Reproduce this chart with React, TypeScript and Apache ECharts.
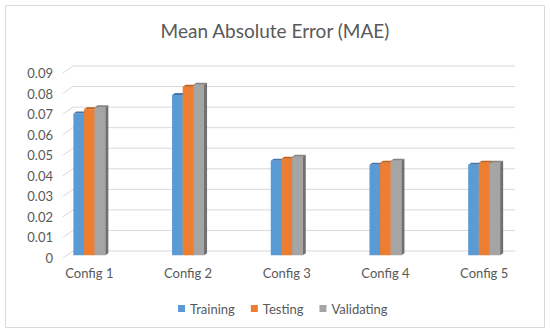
import React, { useEffect, useRef } from "react";
import * as echarts from "echarts";

const categories = ["Config 1", "Config 2", "Config 3", "Config 4", "Config 5"];
const seriesNames = ["Training", "Testing", "Validating"];
const training = [0.069, 0.078, 0.046, 0.044, 0.044];
const testing = [0.071, 0.082, 0.047, 0.045, 0.045];
const validating = [0.072, 0.083, 0.048, 0.046, 0.045];
const yTicks = [0, 0.01, 0.02, 0.03, 0.04, 0.05, 0.06, 0.07, 0.08, 0.09];

const frontColors = ["#5b9bd5", "#ed7d31", "#a5a5a5"];
const topColors = ["#4677aa", "#c4601f", "#858585"];
const sideColors = ["#3f6d99", "#a9521b", "#6f6f6f"];

const TEXT = "#595959";
const FONT = "Lato";
const DX = 3;
const DY = 2;
const BAR_RATIO = 0.108;

export default function App() {
  const ref = useRef<HTMLDivElement>(null);
  useEffect(() => {
    if (!ref.current) return;
    const chart = echarts.init(ref.current, undefined, { renderer: "svg" });
    const allValues = [training, testing, validating];

    const barSeries = allValues.map((vals, si) => ({
      type: "custom",
      name: seriesNames[si],
      xAxisIndex: 1,
      yAxisIndex: 1,
      itemStyle: { color: frontColors[si] },
      data: vals.map((v, i) => [i, v]),
      renderItem: (params: any, api: any) => {
        const idx = api.value(0);
        const val = api.value(1);
        const top = api.coord([idx, val]);
        const base = api.coord([idx, 0]);
        const band = api.size([1, 0])[0];
        const w = band * BAR_RATIO;
        const x = top[0] + (si - 1.5) * w;
        const yt = top[1];
        const yb = base[1];
        return {
          type: "group",
          children: [
            {
              type: "rect",
              shape: { x, y: yt, width: w, height: yb - yt },
              style: { fill: frontColors[si] },
            },
            {
              type: "polygon",
              shape: {
                points: [
                  [x, yt],
                  [x + DX, yt - DY],
                  [x + w + DX, yt - DY],
                  [x + w, yt],
                ],
              },
              style: { fill: topColors[si] },
            },
            {
              type: "polygon",
              shape: {
                points: [
                  [x + w, yt],
                  [x + w + DX, yt - DY],
                  [x + w + DX, yb - DY],
                  [x + w, yb],
                ],
              },
              style: { fill: sideColors[si] },
            },
          ],
        };
      },
    }));

    const option: any = {
      animation: false,
      title: {
        text: "Mean Absolute Error (MAE)",
        left: "center",
        top: 16,
        textStyle: { fontFamily: FONT, fontSize: 19, fontWeight: "normal", color: TEXT },
      },
      legend: {
        data: seriesNames,
        left: 173,
        top: 297,
        icon: "rect",
        itemWidth: 7,
        itemHeight: 7,
        itemGap: 16,
        textStyle: { fontFamily: FONT, fontSize: 13, color: TEXT },
      },
      graphic: [
        {
          type: "rect",
          shape: { x: 5.5, y: 5.5, width: 539, height: 322 },
          style: { fill: "none", stroke: "#d9d9d9", lineWidth: 1 },
          silent: true,
        },
      ],
      grid: [
        { left: 63, right: 45, top: 73, bottom: 78 },
        { left: 40, right: 16.5, top: 70.3, bottom: 80.7 },
      ],
      xAxis: [
        { type: "value", gridIndex: 0, min: 0, max: 1, show: false },
        {
          type: "category",
          gridIndex: 1,
          data: categories,
          axisLine: { show: false },
          axisTick: { show: false },
          axisLabel: { margin: 11, fontFamily: FONT, fontSize: 13, color: TEXT },
        },
      ],
      yAxis: [
        {
          type: "value",
          gridIndex: 0,
          min: 0,
          max: 0.09,
          interval: 0.01,
          splitLine: { show: false },
          axisLine: { show: false },
          axisTick: { show: false },
          axisLabel: {
            margin: 10,
            fontFamily: FONT,
            fontSize: 13,
            color: TEXT,
            formatter: (v: number) => String(parseFloat(v.toFixed(2))),
          },
        },
        {
          type: "value",
          gridIndex: 1,
          min: 0,
          max: 0.09,
          interval: 0.01,
          show: false,
          splitLine: { show: false },
        },
      ],
      series: [
        {
          type: "custom",
          xAxisIndex: 0,
          yAxisIndex: 0,
          silent: true,
          data: yTicks.map((v) => [0, v]),
          renderItem: (params: any, api: any) => {
            const p = api.coord([0, api.value(1)]);
            const cs = params.coordSys;
            return {
              type: "polyline",
              shape: {
                points: [
                  [p[0], p[1]],
                  [p[0] + 10, p[1] - 7],
                  [cs.x + cs.width + 10, p[1] - 7],
                ],
              },
              style: { stroke: "#d9d9d9", lineWidth: 1, fill: "none" },
            };
          },
        },
        ...barSeries,
      ],
    };
    chart.setOption(option);
    return () => chart.dispose();
  }, []);
  return (
    <div
      ref={ref}
      style={{ position: "fixed", left: 0, top: 0, width: 550, height: 336, background: "#fff" }}
    />
  );
}
